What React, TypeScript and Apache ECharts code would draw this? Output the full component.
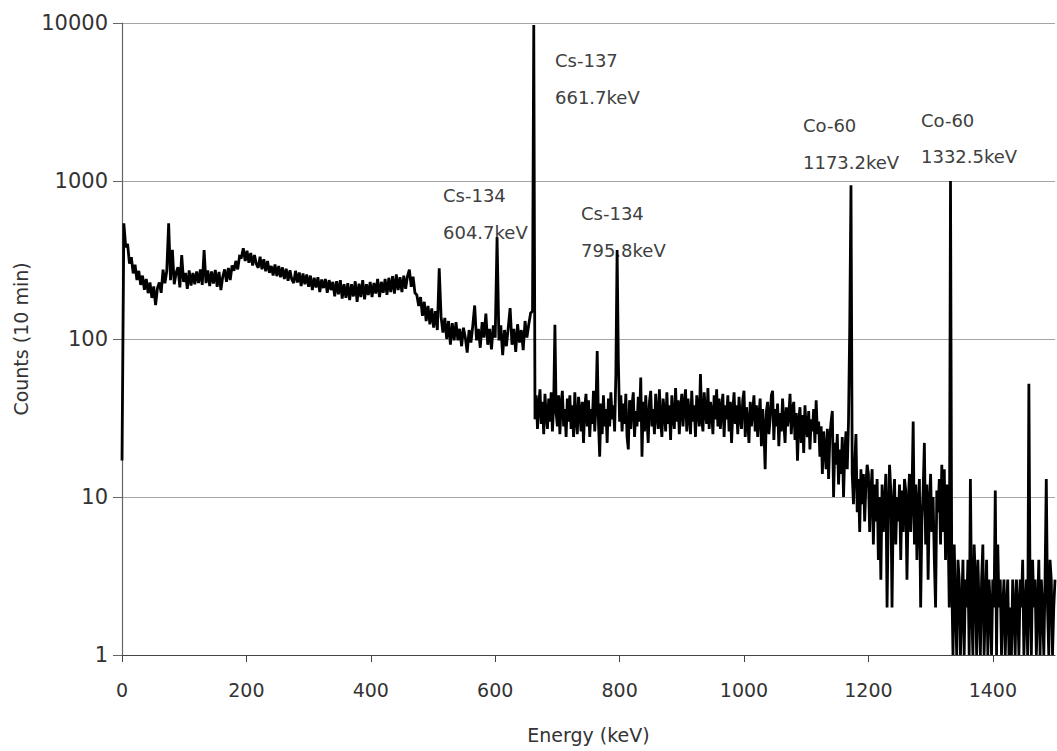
import React, { useEffect, useRef } from "react";
import * as echarts from "echarts";

// Low-energy part: channels every 3 keV from 0 keV
const LOW_START = 0;
const LOW_STEP = 3;
const low0to57 = [17, 540, 380, 400, 300, 330, 260, 295, 236, 270, 220, 252, 205, 240, 195, 228, 182, 215, 164, 210];
const low60to117 = [228, 196, 275, 225, 270, 540, 236, 367, 222, 262, 285, 212, 340, 230, 262, 208, 272, 218, 262, 222];
const low120to177 = [268, 226, 276, 220, 366, 226, 272, 216, 268, 224, 274, 214, 266, 204, 248, 276, 230, 282, 236, 292];
const low180to237 = [270, 312, 276, 334, 330, 375, 312, 362, 304, 350, 292, 340, 298, 282, 332, 276, 320, 268, 312, 262];
const low240to297 = [290, 252, 296, 250, 290, 246, 284, 240, 278, 234, 272, 238, 226, 270, 228, 264, 216, 260, 222, 256];
const low300to357 = [214, 252, 204, 244, 212, 246, 198, 238, 210, 240, 196, 236, 204, 230, 186, 232, 192, 236, 180, 222];
const low360to417 = [182, 226, 176, 222, 186, 232, 172, 224, 184, 236, 178, 222, 190, 230, 184, 226, 194, 240, 184, 230];
const low420to477 = [196, 240, 190, 244, 198, 250, 194, 256, 204, 246, 198, 252, 208, 250, 275, 214, 248, 196, 190, 162];
const low480to537 = [184, 140, 172, 130, 162, 124, 156, 118, 150, 114, 280, 138, 110, 136, 100, 130, 92, 126, 98, 128];
const low540to597 = [98, 116, 90, 118, 102, 82, 114, 95, 122, 163, 98, 116, 88, 128, 102, 145, 92, 116, 86, 122];
const low600to657 = [102, 440, 98, 122, 79, 114, 90, 118, 157, 92, 116, 83, 124, 95, 114, 85, 130, 102, 124, 146];

// High-energy part: channels every 2 keV from 660 keV
const HIGH_START = 660;
const HIGH_STEP = 2;
const high660to718 = [150, 9700, 31, 44, 27, 38, 48, 29, 40, 25, 45, 33, 27, 42, 30, 46, 26, 38, 123, 34, 28, 44, 25, 39, 47, 28, 36, 24, 42, 30];
const high720to778 = [44, 27, 38, 24, 46, 31, 25, 43, 35, 26, 40, 22, 37, 45, 28, 41, 24, 36, 29, 47, 26, 38, 84, 30, 18, 39, 25, 44, 28, 36];
const high780to838 = [22, 42, 28, 46, 31, 38, 26, 60, 366, 73, 30, 44, 26, 39, 29, 45, 24, 20, 41, 27, 38, 46, 24, 35, 28, 43, 30, 57, 18, 40];
const high840to898 = [26, 44, 31, 22, 40, 47, 28, 36, 25, 45, 33, 27, 48, 30, 24, 42, 35, 26, 46, 29, 38, 23, 44, 32, 27, 49, 30, 41, 25, 37];
const high900to958 = [45, 28, 39, 48, 26, 42, 33, 25, 47, 30, 38, 24, 44, 36, 28, 60, 31, 26, 46, 34, 29, 49, 27, 40, 35, 25, 44, 31, 48, 28];
const high960to1018 = [42, 27, 36, 45, 24, 38, 31, 44, 26, 40, 22, 35, 46, 29, 38, 25, 43, 32, 27, 41, 47, 24, 37, 30, 22, 40, 28, 35, 44, 26];
const high1020to1078 = [38, 24, 33, 42, 21, 36, 27, 15, 35, 40, 25, 31, 44, 47, 23, 36, 28, 39, 21, 34, 26, 42, 30, 22, 37, 28, 33, 45, 25, 36];
const high1080to1138 = [40, 23, 34, 17, 30, 37, 22, 33, 19, 38, 27, 24, 35, 20, 31, 26, 36, 22, 41, 25, 30, 18, 28, 14, 26, 20, 15, 27, 13, 24];
const high1140to1198 = [30, 35, 10, 22, 16, 25, 12, 20, 14, 24, 10, 19, 26, 15, 30, 120, 940, 14, 9, 16, 25, 8, 13, 6, 15, 9, 14, 7, 12, 16];
const high1200to1258 = [14, 6, 11, 15, 5, 12, 7, 13, 4, 10, 3, 12, 6, 9, 14, 2, 8, 16, 11, 2, 9, 13, 5, 10, 7, 12, 4, 11, 6, 13];
const high1260to1318 = [11, 3, 9, 14, 6, 10, 30, 5, 12, 4, 9, 13, 2, 7, 11, 22, 5, 12, 3, 9, 14, 6, 10, 4, 2, 11, 8, 13, 5, 16];
const high1320to1378 = [6, 15, 4, 12, 7, 2, 1000, 3, 1, 5, 2, 1, 4, 3, 1, 2, 4, 1, 3, 2, 4, 1, 13, 2, 1, 5, 3, 1, 4, 2];
const high1380to1438 = [1, 3, 5, 1, 2, 4, 1, 3, 2, 1, 3, 2, 11, 1, 5, 2, 3, 1, 2, 3, 1, 2, 3, 1, 2, 1, 3, 2, 1, 3];
const high1440to1500 = [2, 1, 3, 2, 4, 1, 2, 3, 1, 52, 2, 1, 4, 2, 3, 1, 2, 4, 1, 3, 2, 1, 3, 13, 2, 1, 4, 3, 1, 2, 3];

const lowCounts = [
  ...low0to57, ...low60to117, ...low120to177, ...low180to237, ...low240to297, ...low300to357,
  ...low360to417, ...low420to477, ...low480to537, ...low540to597, ...low600to657,
];
const highCounts = [
  ...high660to718, ...high720to778, ...high780to838, ...high840to898, ...high900to958,
  ...high960to1018, ...high1020to1078, ...high1080to1138, ...high1140to1198, ...high1200to1258,
  ...high1260to1318, ...high1320to1378, ...high1380to1438, ...high1440to1500,
];

const xTickValues = [0, 200, 400, 600, 800, 1000, 1200, 1400];
const xAxisName = "Energy (keV)";
const yAxisName = "Counts (10 min)";

const peakNuclides = ["Cs-137", "Cs-134", "Cs-134", "Co-60", "Co-60"];
const peakEnergies = ["661.7keV", "604.7keV", "795.8keV", "1173.2keV", "1332.5keV"];
// label anchor positions (px) for each annotation: [x, y of first line, y of second line]
const labelPos = [
  [555, 60, 97],
  [443, 195, 232],
  [581, 213, 250],
  [803, 125, 162],
  [921, 120, 156],
];

const FONT = "'DejaVu Sans', 'Noto Sans', sans-serif";

export default function App() {
  const ref = useRef<HTMLDivElement>(null);
  useEffect(() => {
    if (!ref.current) return;
    const chart = echarts.init(ref.current, undefined, { renderer: "svg" });
    const data = [
      ...lowCounts.map((c, i) => [LOW_START + i * LOW_STEP, c]),
      ...highCounts.map((c, i) => [HIGH_START + i * HIGH_STEP, c]),
    ];
    const graphics: any[] = [];
    peakNuclides.forEach((n, i) => {
      const [x, y1, y2] = labelPos[i];
      graphics.push({
        type: "text", x, y: y1, silent: true,
        style: { text: n, fill: "#404040", fontSize: 18, fontFamily: FONT, verticalAlign: "middle" },
      });
      graphics.push({
        type: "text", x, y: y2, silent: true,
        style: { text: peakEnergies[i], fill: "#404040", fontSize: 18, fontFamily: FONT, verticalAlign: "middle" },
      });
    });
    chart.setOption({
      animation: false,
      backgroundColor: "#ffffff",
      grid: { left: 122, right: 2, top: 23, bottom: 96, containLabel: false, outerBoundsMode: "none" },
      xAxis: {
        type: "value",
        min: 0,
        max: 1500,
        interval: 200,
        name: xAxisName,
        nameLocation: "middle",
        nameGap: 70,
        nameTextStyle: { color: "#333", fontSize: 19, fontFamily: FONT },
        axisLine: { show: true, lineStyle: { color: "#444", width: 1 } },
        axisTick: { show: true, length: 7, lineStyle: { color: "#444" }, customValues: xTickValues },
        axisLabel: {
          color: "#333", fontSize: 19, fontFamily: FONT, margin: 25, customValues: xTickValues,
          formatter: (v: number) => String(v),
        },
        splitLine: { show: false },
      },
      yAxis: {
        type: "log",
        logBase: 10,
        min: 1,
        max: 10000,
        name: yAxisName,
        nameLocation: "middle",
        nameGap: 92,
        nameRotate: 90,
        nameTextStyle: { color: "#333", fontSize: 19, fontFamily: FONT },
        axisLine: { show: true, lineStyle: { color: "#666", width: 1.2 } },
        axisTick: { show: true, length: 9, lineStyle: { color: "#666" } },
        axisLabel: {
          color: "#333", fontSize: 21, fontFamily: FONT, margin: 14,
          formatter: (v: number) => String(Math.round(v)),
        },
        splitLine: { show: true, lineStyle: { color: "#a6a6a6", width: 1 } },
      },
      series: [
        {
          type: "line",
          data,
          showSymbol: false,
          symbol: "none",
          lineStyle: { color: "#000", width: 2.8, join: "miter", miterLimit: 2 },
          z: 3,
        },
      ],
      graphic: graphics,
    });
    return () => chart.dispose();
  }, []);
  return (
    <div
      ref={ref}
      style={{ position: "absolute", left: 0, top: 0, width: 1057, height: 751, background: "#fff" }}
    />
  );
}
